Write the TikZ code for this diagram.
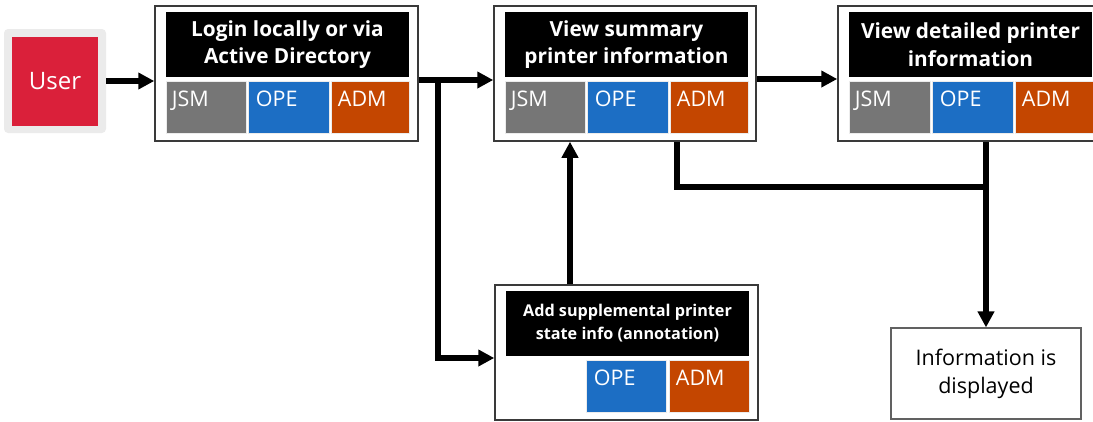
\documentclass[tikz,border=0pt]{standalone}
\usepackage{fontspec}
\setmainfont{Open Sans}
\usetikzlibrary{arrows.meta,positioning,calc}
\definecolor{cgray}{HTML}{767676}
\definecolor{cblue}{HTML}{1C6EC4}
\definecolor{corange}{HTML}{C44600}
\definecolor{cred}{HTML}{DA203A}
\definecolor{cbg}{HTML}{EBEBEB}
\definecolor{cborder}{HTML}{3A3A3A}
\tikzset{
  outerbox/.style={draw=cborder,line width=1.5pt,fill=white,inner sep=0pt},
  headbox/.style={fill=black,text=white,inner sep=0pt,align=center,font=\fontsize{20.8}{27.5}\selectfont\bfseries},
  smallhead/.style={headbox,font=\fontsize{16.2}{23}\selectfont\bfseries},
  cellbox/.style={inner sep=0pt,draw=white!85!gray,line width=0.6pt},
  celltext/.style={anchor=north west,text=white,inner sep=0pt,font=\fontsize{21.5}{25}\selectfont},
  conn/.style={line width=5.5pt,-{Triangle[length=16pt,width=16pt]}},
  plain/.style={line width=5.5pt},
}
\begin{document}
\begin{tikzpicture}[x=1pt,y=-1pt]
\useasboundingbox (0,0) rectangle (1093,421);
\clip (0,0) rectangle (1093,421);
% User
\node[fill=cbg,rounded corners=4pt,minimum width=102pt,minimum height=104pt,inner sep=0pt] (userbg) at (55,81) {};
\node[fill=cred,minimum width=86pt,minimum height=89pt,inner sep=0pt,text=white,font=\fontsize{24}{30}\selectfont] (user) at (55,81.5) {User};
% Login block
\node[outerbox,minimum width=263pt,minimum height=135pt] (login) at (286.5,73.5) {};
\node[headbox,minimum width=243pt,minimum height=65pt] (loginh) at (287.5,44.5) {Login locally or via\\Active Directory};
\node[cellbox,fill=cgray,minimum width=80pt,minimum height=52pt] (lj) at (206,107) {};
\node[cellbox,fill=cblue,minimum width=81pt,minimum height=52pt] (lo) at (288.5,107) {};
\node[cellbox,fill=corange,minimum width=78pt,minimum height=52pt] (la) at (370,107) {};
\node[celltext] (ljt) at ([xshift=6pt,yshift=-10pt]lj.north west) {JSM};
\node[celltext] (lot) at ([xshift=8pt,yshift=-10pt]lo.north west) {OPE};
\node[celltext] (lat) at ([xshift=7pt,yshift=-10pt]la.north west) {ADM};
% Summary block
\node[outerbox,minimum width=262pt,minimum height=135pt] (summary) at (625,73.5) {};
\node[headbox,minimum width=243pt,minimum height=65pt] (summaryh) at (626.5,44.5) {View summary\\printer information};
\node[cellbox,fill=cgray,minimum width=80pt,minimum height=52pt] (sj) at (545,107) {};
\node[cellbox,fill=cblue,minimum width=81pt,minimum height=52pt] (so) at (627.5,107) {};
\node[cellbox,fill=corange,minimum width=78pt,minimum height=52pt] (sa) at (709,107) {};
\node[celltext] (sjt) at ([xshift=6pt,yshift=-10pt]sj.north west) {JSM};
\node[celltext] (sot) at ([xshift=8pt,yshift=-10pt]so.north west) {OPE};
\node[celltext] (sat) at ([xshift=7pt,yshift=-10pt]sa.north west) {ADM};
% Detailed block
\node[outerbox,minimum width=262pt,minimum height=135pt] (detail) at (969,73.5) {};
\node[headbox,minimum width=243pt,minimum height=65pt] (detailh) at (970.5,44.5) {View detailed printer\\information};
\node[cellbox,fill=cgray,minimum width=81pt,minimum height=52pt] (dj) at (889.5,107) {};
\node[cellbox,fill=cblue,minimum width=81pt,minimum height=52pt] (do) at (972.5,107) {};
\node[cellbox,fill=corange,minimum width=78pt,minimum height=52pt] (da) at (1054,107) {};
\node[celltext] (djt) at ([xshift=6pt,yshift=-10pt]dj.north west) {JSM};
\node[celltext] (dot) at ([xshift=8pt,yshift=-10pt]do.north west) {OPE};
\node[celltext] (dat) at ([xshift=7pt,yshift=-10pt]da.north west) {ADM};
% Annotation block
\node[outerbox,minimum width=263pt,minimum height=135pt] (annot) at (626.5,352.5) {};
\node[smallhead,minimum width=243pt,minimum height=65pt] (annoth) at (627.5,323.5) {Add supplemental printer\\state info (annotation)};
\node[cellbox,fill=cblue,minimum width=80pt,minimum height=52pt] (ao) at (626,386) {};
\node[cellbox,fill=corange,minimum width=80pt,minimum height=52pt] (aa) at (709,386) {};
\node[celltext] (aot) at ([xshift=8pt,yshift=-10pt]ao.north west) {OPE};
\node[celltext] (aat) at ([xshift=7pt,yshift=-10pt]aa.north west) {ADM};
% Info
\node[draw=cborder!80,line width=1.2pt,fill=white,minimum width=190pt,minimum height=91pt,inner sep=0pt,align=center,font=\fontsize{21.5}{28}\selectfont] (info) at (986,373.5) {Information is\\displayed};
% Connectors
\draw[conn] (userbg.east |- 0,81) -- (login.west |- 0,81);
\coordinate (br) at (438,80);
\draw[conn] ([yshift=-6.5pt]login.east) -- ([yshift=-6.5pt]login.east -| summary.west);
\draw[conn] (br) |- ([yshift=-5.5pt]annot.west);
\draw[conn] ([xshift=-56.5pt]annot.north) -- ([xshift=-56.5pt]annot.north |- summary.south);
\draw[conn] ([yshift=-5.5pt]summary.east) -- ([yshift=-5.5pt]summary.east -| detail.west);
\coordinate (jn) at (985,187);
\draw[plain] ([xshift=52pt]summary.south) |- (jn);
\draw[conn] (detail.south -| info.north) -- (info.north);
\end{tikzpicture}
\end{document}
